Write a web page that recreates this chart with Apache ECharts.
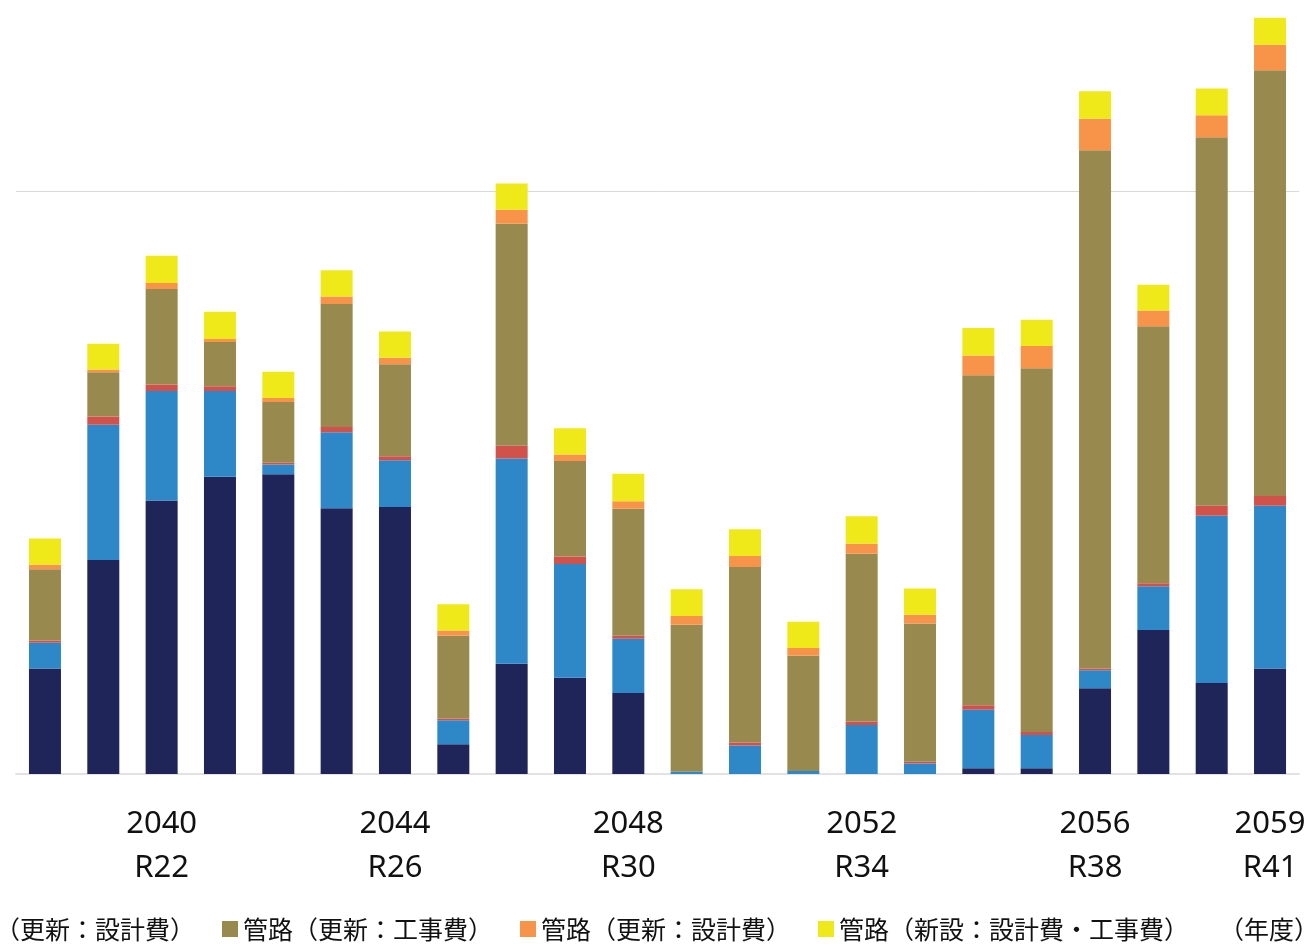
<!DOCTYPE html>
<html>
<head>
<meta charset="utf-8">
<script src="https://cdn.jsdelivr.net/npm/echarts@6/dist/echarts.min.js"></script>
<style>
  html, body { margin: 0; padding: 0; background: #ffffff; }
  #chart { width: 1310px; height: 944px; }
</style>
</head>
<body>
<div id="chart"></div>
<script>
// Fiscal years on the category axis
const years = ['2038', '2039', '2040', '2041', '2042', '2043', '2044', '2045', '2046', '2047', '2048',
               '2049', '2050', '2051', '2052', '2053', '2054', '2055', '2056', '2057', '2058', '2059'];
// Reiwa era year for each fiscal year
const reiwa = ['R20', 'R21', 'R22', 'R23', 'R24', 'R25', 'R26', 'R27', 'R28', 'R29', 'R30',
               'R31', 'R32', 'R33', 'R34', 'R35', 'R36', 'R37', 'R38', 'R39', 'R40', 'R41'];
// Years that carry a tick label
const labelledYears = ['2040', '2044', '2048', '2052', '2056', '2059'];

// Stacked cost components per year
const structureWork = [18.1, 36.7, 46.9, 51.0, 51.4, 45.6, 45.8, 5.1, 18.9, 16.5, 13.9,
                       0, 0, 0, 0, 0, 1.0, 1.0, 14.7, 24.7, 15.6, 18.1];
const equipmentWork = [4.4, 23.2, 18.8, 14.7, 1.7, 13.0, 8.0, 4.1, 35.2, 19.5, 9.3,
                       0.4, 4.9, 0.5, 8.4, 1.8, 10.0, 5.7, 3.1, 7.5, 28.7, 27.9];
const facilityDesign = [0.4, 1.4, 1.1, 0.8, 0.3, 0.9, 0.7, 0.3, 2.2, 1.3, 0.5,
                        0, 0.5, 0, 0.6, 0.3, 0.8, 0.5, 0.3, 0.5, 1.7, 1.7];
const pipeRenewWork = [12.2, 7.6, 16.4, 7.6, 10.4, 21.1, 15.8, 14.2, 38.1, 16.4, 21.8,
                       25.2, 30.1, 19.8, 28.8, 23.7, 56.6, 62.4, 88.9, 44.1, 63.2, 73.0];
const pipeRenewDesign = [0.8, 0.5, 1.0, 0.5, 0.7, 1.3, 1.1, 0.9, 2.4, 1.1, 1.3,
                         1.5, 1.9, 1.3, 1.7, 1.5, 3.4, 3.8, 5.4, 2.7, 3.8, 4.4];
const pipeNew = [4.5, 4.4, 4.7, 4.7, 4.5, 4.5, 4.5, 4.5, 4.5, 4.5, 4.7,
                 4.6, 4.6, 4.5, 4.7, 4.5, 4.7, 4.5, 4.7, 4.4, 4.6, 4.6];

const seriesDefs = [
  { name: '構造物（更新：工事費）', data: structureWork, color: '#1f2559' },
  { name: '設備（更新：工事費）', data: equipmentWork, color: '#2e88c8' },
  { name: '構造物・設備（更新：設計費）', data: facilityDesign, color: '#d1514b' },
  { name: '管路（更新：工事費）', data: pipeRenewWork, color: '#98894f' },
  { name: '管路（更新：設計費）', data: pipeRenewDesign, color: '#f7944a' },
  { name: '管路（新設：設計費・工事費）', data: pipeNew, color: '#efe91a' }
];

const cjk = '"Noto Sans CJK JP", "Noto Sans", sans-serif';

const chart = echarts.init(document.getElementById('chart'), null, { renderer: 'canvas' });
chart.setOption({
  animation: false,
  backgroundColor: '#ffffff',
  title: {
    text: '（年度）',
    left: 1219,
    top: 916,
    padding: 0,
    textStyle: { fontFamily: cjk, fontSize: 25, fontWeight: 'normal', color: '#111111', lineHeight: 26 }
  },
  legend: {
    left: -797,
    top: 916,
    padding: 0,
    itemWidth: 16,
    itemHeight: 16,
    itemGap: 27,
    icon: 'rect',
    selectedMode: false,
    textStyle: { fontFamily: cjk, fontSize: 25, color: '#111111', lineHeight: 26 },
    data: seriesDefs.map(s => s.name)
  },
  grid: { left: 15.8, right: 10.8, top: 16.1, bottom: 170, containLabel: false },
  xAxis: {
    type: 'category',
    data: years,
    axisTick: { show: false },
    axisLine: { show: true, lineStyle: { color: '#d9d9d9', width: 1.5 } },
    axisLabel: {
      interval: 0,
      margin: 28,
      fontFamily: '"Noto Sans", sans-serif',
      fontSize: 31,
      lineHeight: 44,
      color: '#111111',
      formatter: (v, i) => labelledYears.includes(v) ? v + '\n' + reiwa[i] : ''
    }
  },
  yAxis: {
    type: 'value',
    min: 0,
    max: 130,
    interval: 100,
    axisLabel: { show: false },
    axisLine: { show: false },
    axisTick: { show: false },
    splitLine: { show: true, showMinLine: false, showMaxLine: false, lineStyle: { color: '#d9d9d9', width: 1 } }
  },
  series: seriesDefs.map(s => ({
    name: s.name,
    type: 'bar',
    stack: 'total',
    barWidth: 32,
    data: s.data,
    itemStyle: { color: s.color }
  }))
});
</script>
</body>
</html>
